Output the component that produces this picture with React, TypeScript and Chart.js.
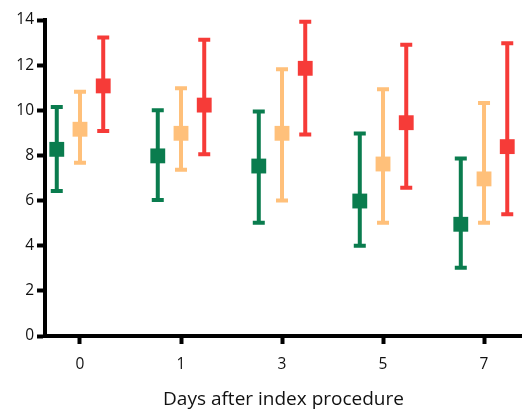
import React, { useEffect, useRef } from 'react';
import { Chart, registerables } from 'chart.js';

Chart.register(...registerables);

const categories = ['0', '1', '3', '5', '7'];
const yTicks = [0, 2, 4, 6, 8, 10, 12, 14];

const greenMean = [8.27, 7.98, 7.53, 5.98, 4.95];
const greenLow = [6.42, 6.02, 5.02, 4.0, 3.02];
const greenHigh = [10.15, 10.0, 9.95, 8.97, 7.86];

const orangeMean = [9.16, 8.98, 8.98, 7.62, 6.96];
const orangeLow = [7.68, 7.36, 6.0, 5.02, 5.02];
const orangeHigh = [10.82, 10.98, 11.82, 10.93, 10.32];

const redMean = [11.08, 10.23, 11.86, 9.45, 8.39];
const redLow = [9.08, 8.05, 8.93, 6.57, 5.39];
const redHigh = [13.22, 13.12, 13.92, 12.9, 12.97];

const GREEN = '#0A7C4E';
const ORANGE = '#FFC07A';
const RED = '#F63B38';

const errorBarPlugin = {
  id: 'errorBars',
  beforeDatasetsDraw(chart: any) {
    const ctx = chart.ctx;
    const xs = chart.scales.x;
    const ys = chart.scales.y;
    chart.data.datasets.forEach((ds: any) => {
      ctx.save();
      ctx.strokeStyle = ds.borderColor;
      ctx.lineWidth = 4;
      ctx.lineCap = 'butt';
      ds.data.forEach((pt: any, j: number) => {
        const x = xs.getPixelForValue(pt.x);
        const yl = ys.getPixelForValue(ds.errLow[j]);
        const yh = ys.getPixelForValue(ds.errHigh[j]);
        ctx.beginPath();
        ctx.moveTo(x, yl);
        ctx.lineTo(x, yh);
        ctx.moveTo(x - 6, yl);
        ctx.lineTo(x + 6, yl);
        ctx.moveTo(x - 6, yh);
        ctx.lineTo(x + 6, yh);
        ctx.stroke();
      });
      ctx.restore();
    });
  },
};

function makeSet(mean: number[], low: number[], high: number[], color: string, shift: number) {
  return {
    data: mean.map((v, i) => ({ x: i + shift, y: v })),
    errLow: low,
    errHigh: high,
    showLine: false,
    borderColor: color,
    backgroundColor: color,
    pointStyle: 'rect',
    pointRadius: 10.5,
    pointBorderWidth: 0,
    pointHoverRadius: 10.5,
    clip: false,
  };
}

export default function App() {
  const ref = useRef<HTMLCanvasElement>(null);
  useEffect(() => {
    if (!ref.current) return;
    const tickFont = { family: 'Open Sans', size: 15.5 };
    const chart = new Chart(ref.current, {
      type: 'scatter',
      data: {
        datasets: [
          makeSet(greenMean, greenLow, greenHigh, GREEN, -0.23),
          makeSet(orangeMean, orangeLow, orangeHigh, ORANGE, 0),
          makeSet(redMean, redLow, redHigh, RED, 0.23),
        ] as any,
      },
      options: {
        animation: false,
        responsive: false,
        devicePixelRatio: 1,
        layout: { autoPadding: false, padding: { top: 20, right: 0, left: 0, bottom: 0 } },
        plugins: { legend: { display: false }, tooltip: { enabled: false } },
        scales: {
          x: {
            type: 'linear',
            min: -0.3465,
            max: 4.376,
            afterBuildTicks: (scale: any) => {
              scale.ticks = categories.map((_, i) => ({ value: i }));
            },
            afterFit: (scale: any) => {
              scale.height = 76;
              scale.paddingLeft = 0;
              scale.paddingRight = 0;
            },
            ticks: {
              callback: (v: any) => categories[v] ?? '',
              font: tickFont,
              color: '#111',
              padding: 11,
              maxRotation: 0,
            },
            grid: {
              drawOnChartArea: false,
              drawTicks: true,
              tickLength: 8,
              tickWidth: 4,
              tickColor: '#000',
            },
            border: { display: true, color: '#000', width: 4 },
            title: {
              display: true,
              text: 'Days after index procedure',
              font: { family: 'Open Sans', size: 19 },
              color: '#111',
              padding: { top: 0, bottom: 1 },
            },
          },
          y: {
            min: 0,
            max: 14,
            afterBuildTicks: (scale: any) => {
              scale.ticks = yTicks.map((v) => ({ value: v }));
            },
            afterFit: (scale: any) => {
              scale.width = 45;
            },
            ticks: {
              font: tickFont,
              color: '#111',
              padding: 3,
            },
            grid: {
              drawOnChartArea: false,
              drawTicks: true,
              tickLength: 8,
              tickWidth: 4,
              tickColor: '#000',
            },
            border: { display: true, color: '#000', width: 4 },
          },
        },
      } as any,
      plugins: [errorBarPlugin],
    });
    return () => chart.destroy();
  }, []);
  return (
    <div style={{ position: 'fixed', left: 0, top: 0, width: 522, height: 412, background: '#fff' }}>
      <canvas ref={ref} width={522} height={412} />
    </div>
  );
}
